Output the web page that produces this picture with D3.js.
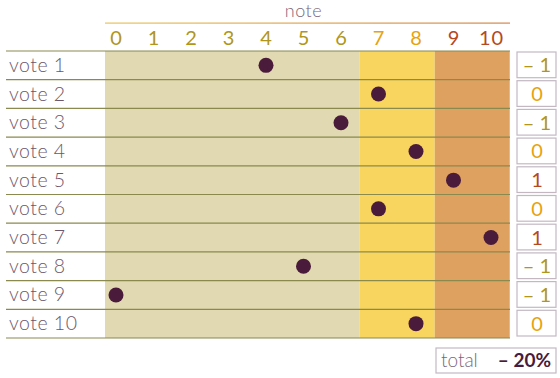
<!DOCTYPE html>
<html>
<head>
<meta charset="utf-8">
<script src="https://cdn.jsdelivr.net/npm/d3@7"></script>
<style>
  body { margin: 0; background: #fff; }
  svg text { font-family: Lato, "Open Sans", sans-serif; }
</style>
</head>
<body>
<svg id="chart"></svg>
<script>
// 数据
var votes = ['vote 1', 'vote 2', 'vote 3', 'vote 4', 'vote 5', 'vote 6', 'vote 7', 'vote 8', 'vote 9', 'vote 10'];
var notes = [4, 7, 6, 8, 9, 7, 10, 5, 0, 8];
var scores = [-1, 0, -1, 0, 1, 0, 1, -1, -1, 0];
var ticks = [0, 1, 2, 3, 4, 5, 6, 7, 8, 9, 10];
var zones = [[0, 6], [7, 8], [9, 10]];
var totalLabel = '– 20%';

var width = 560, height = 378;
var svg = d3.select('#chart').attr('width', width).attr('height', height);

// 颜色
var zoneFill = ['#e0d9b1', '#f8d55f', '#dfa15f'];
var zoneText = ['#b0961c', '#e7a20f', '#b5491e'];
function zoneOf(v) {
    return v <= 6 ? 0 : (v <= 8 ? 1 : 2);
}

// 比例尺
var x = d3.scaleLinear().domain([0, 10]).range([116, 491]);
var y = d3.scaleBand().domain(votes).range([51, 338]);
var plotLeft = 105, plotRight = 510;

// 背景区域
svg.selectAll('rect.zone')
    .data(zones)
    .enter()
    .append('rect')
    .attr('class', 'zone')
    .attr('x', function(d, i) { return i == 0 ? plotLeft : x(d[0] - 0.5); })
    .attr('y', y.range()[0])
    .attr('width', function(d, i) {
        var x0 = i == 0 ? plotLeft : x(d[0] - 0.5);
        return Math.min(plotRight, x(d[1] + 0.5)) - x0;
    })
    .attr('height', y.range()[1] - y.range()[0])
    .attr('fill', function(d, i) { return zoneFill[i]; });

// 标题线
var grad = svg.append('defs').append('linearGradient').attr('id', 'head-grad');
grad.append('stop').attr('offset', '0%').attr('stop-color', '#ecc35a');
grad.append('stop').attr('offset', '100%').attr('stop-color', '#d3884a');
svg.append('rect')
    .attr('x', plotLeft).attr('y', 22.5)
    .attr('width', plotRight - plotLeft).attr('height', 1.2)
    .attr('fill', 'url(#head-grad)');
svg.append('text')
    .attr('x', (plotLeft + plotRight) / 2 - 4).attr('y', 17)
    .attr('text-anchor', 'middle')
    .attr('font-size', 18)
    .attr('font-weight', 300)
    .attr('letter-spacing', 0.5)
    .attr('fill', '#7b6679')
    .text('note');

// 顶部刻度
var axis = d3.axisTop(x).tickValues(ticks).tickSize(0).tickPadding(0);
var axisG = svg.append('g').attr('transform', 'translate(0,45)').call(axis);
axisG.select('.domain').remove();
axisG.selectAll('text')
    .attr('font-size', 20)
    .attr('font-family', 'Lato, sans-serif')
    .attr('letter-spacing', 1)
    .attr('fill', function(d) { return zoneText[zoneOf(d)]; });

// 行线
svg.selectAll('line.row')
    .data(votes.concat(['end']))
    .enter()
    .append('line')
    .attr('class', 'row')
    .attr('x1', 6).attr('x2', plotRight)
    .attr('y1', function(d) { return d == 'end' ? y.range()[1] : y(d); })
    .attr('y2', function(d) { return d == 'end' ? y.range()[1] : y(d); })
    .attr('stroke', '#8a8a4e')
    .attr('stroke-width', 1.2);

// 行标签
svg.selectAll('text.vote')
    .data(votes)
    .enter()
    .append('text')
    .attr('class', 'vote')
    .attr('x', 9)
    .attr('y', function(d) { return y(d) + y.bandwidth() / 2 + 6.5; })
    .attr('font-size', 19.5)
    .attr('font-weight', 300)
    .attr('letter-spacing', 0.5)
    .attr('fill', '#6e566b')
    .text(function(d) { return d; });

// 点
svg.selectAll('circle.dot')
    .data(notes)
    .enter()
    .append('circle')
    .attr('class', 'dot')
    .attr('cx', function(d) { return x(d); })
    .attr('cy', function(d, i) { return y(votes[i]) + y.bandwidth() / 2; })
    .attr('r', 7.5)
    .attr('fill', '#4a1b3a');

// 分数框
var scoreG = svg.selectAll('g.score')
    .data(scores)
    .enter()
    .append('g')
    .attr('class', 'score')
    .attr('transform', function(d, i) { return 'translate(517,' + (y(votes[i]) + 1) + ')'; });
scoreG.append('rect')
    .attr('width', 39).attr('height', y.bandwidth() - 3)
    .attr('fill', '#fff')
    .attr('stroke', '#c3b8c2')
    .attr('stroke-width', 1.2);
scoreG.append('text')
    .attr('x', 20).attr('y', y.bandwidth() / 2 + 6)
    .attr('text-anchor', 'middle')
    .attr('font-size', 20)
    .attr('fill', function(d) { return zoneText[d + 1]; })
    .text(function(d) { return d < 0 ? '– ' + Math.abs(d) : d; });

// 总计
var totalG = svg.append('g').attr('transform', 'translate(436,348)');
totalG.append('rect')
    .attr('width', 120).attr('height', 25)
    .attr('fill', '#fff')
    .attr('stroke', '#c3b8c2')
    .attr('stroke-width', 1.2);
totalG.append('text')
    .attr('x', 5).attr('y', 19)
    .attr('font-size', 19)
    .attr('font-weight', 300)
    .attr('fill', '#7b6679')
    .text('total');
totalG.append('text')
    .attr('x', 115).attr('y', 19)
    .attr('text-anchor', 'end')
    .attr('font-size', 19)
    .attr('font-weight', 'bold')
    .attr('fill', '#4a1b3a')
    .text(totalLabel);
</script>
</body>
</html>
